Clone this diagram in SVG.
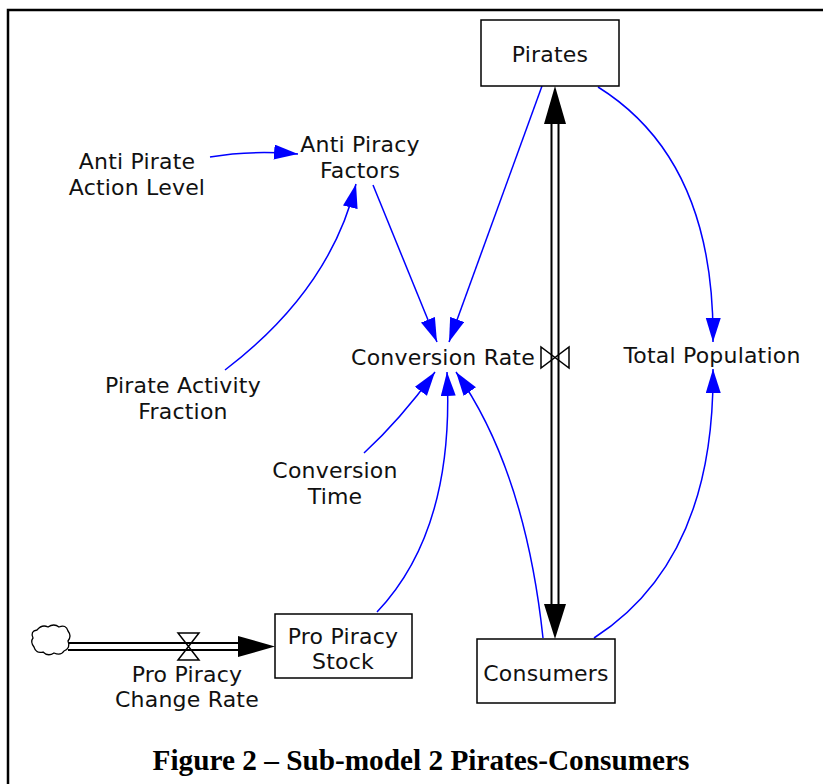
<svg xmlns="http://www.w3.org/2000/svg" width="823" height="784" viewBox="0 0 823 784">
  <style>
    .lbl { font-family: "DejaVu Sans", Verdana, sans-serif; font-size: 22px; letter-spacing: 0.2px; fill: #111; text-anchor: middle; }
    .box { fill: #fff; stroke: #000; stroke-width: 1.5; }
    .link { fill: none; stroke: #0000ff; stroke-width: 1.5; marker-end: url(#blueHead); }
    .pipeOuter { fill: none; stroke: #000; stroke-width: 9; }
    .pipeInner { fill: none; stroke: #fff; stroke-width: 5; }
    .valve { fill: none; stroke: #000; stroke-width: 1.5; stroke-linejoin: miter; }
    .caption { font-family: "Liberation Serif", "Times New Roman", serif; font-size: 29px; font-weight: bold; fill: #000; text-anchor: middle; }
  </style>
  <defs>
    <marker id="blueHead" markerUnits="userSpaceOnUse" markerWidth="26" markerHeight="16" refX="24" refY="7.5" orient="auto">
      <path d="M0,0 L24,7.5 L0,15 Z" fill="#0000ff"/>
    </marker>
  </defs>

  <rect width="823" height="784" fill="#fff"/>
  <!-- page frame -->
  <rect x="8" y="10" width="830" height="800" fill="none" stroke="#000" stroke-width="2.5"/>

  <!-- material flows -->
  <g id="flows">
    <g id="flow-pirates-consumers">
      <line class="pipeOuter" x1="555" y1="118" x2="555" y2="610"/>
      <line class="pipeInner" x1="555" y1="118" x2="555" y2="610"/>
      <path d="M555,86 L566,124 L544,124 Z" fill="#000"/>
      <path d="M555,639 L566,604 L544,604 Z" fill="#000"/>
      <path class="valve" d="M541,347 L541,368 L569,347 L569,368 Z"/>
    </g>
    <g id="flow-pro-piracy">
      <line class="pipeOuter" x1="68" y1="646.5" x2="245" y2="646.5"/>
      <line class="pipeInner" x1="68" y1="646.5" x2="245" y2="646.5"/>
      <path d="M275,646.5 L238,636 L238,657 Z" fill="#000"/>
      <path class="valve" d="M178,633 L199,633 L178,660 L199,660 Z"/>
      <!-- source cloud -->
      <path d="M37,630 q5,-6 11,-3 q6,-4 11,0 q7,-3 9,4 q4,5 0,10 q3,7 -4,10 q-3,5 -10,2 q-6,4 -11,-1 q-7,2 -9,-5 q-4,-5 -1,-9 q-3,-7 4,-8 Z" fill="#fff" stroke="#000" stroke-width="1.3"/>
    </g>
  </g>

  <!-- information links -->
  <g id="links">
    <path class="link" d="M210,157 Q250,150 298,154"/>
    <path class="link" d="M225,370 Q330,290 356,184"/>
    <path class="link" d="M373,185 L437,342"/>
    <path class="link" d="M542,86 L449,342"/>
    <path class="link" d="M598,87 Q715,160 713,342"/>
    <path class="link" d="M594,638 Q715,560 713,369"/>
    <path class="link" d="M364,453 Q400,420 435,372"/>
    <path class="link" d="M377,612 Q455,530 447,372"/>
    <path class="link" d="M543,638 Q525,470 456,372"/>
  </g>

  <!-- nodes -->
  <g id="pirates">
    <rect class="box" x="481" y="20" width="138" height="66"/>
    <text class="lbl" x="550" y="62">Pirates</text>
  </g>
  <g id="consumers">
    <rect class="box" x="477" y="639" width="138" height="64"/>
    <text class="lbl" x="546" y="681">Consumers</text>
  </g>
  <g id="pro-piracy-stock">
    <rect class="box" x="275" y="614" width="137" height="64"/>
    <text class="lbl" x="343" y="644">Pro Piracy</text>
    <text class="lbl" x="343" y="669">Stock</text>
  </g>
  <g id="anti-piracy-factors">
    <text class="lbl" x="360" y="152">Anti Piracy</text>
    <text class="lbl" x="360" y="178">Factors</text>
  </g>
  <g id="anti-pirate-action-level">
    <text class="lbl" x="137" y="169">Anti Pirate</text>
    <text class="lbl" x="137" y="195">Action Level</text>
  </g>
  <g id="conversion-rate">
    <text class="lbl" x="443" y="365">Conversion Rate</text>
  </g>
  <g id="total-population">
    <text class="lbl" x="712" y="363">Total Population</text>
  </g>
  <g id="pirate-activity-fraction">
    <text class="lbl" x="183" y="393">Pirate Activity</text>
    <text class="lbl" x="183" y="419">Fraction</text>
  </g>
  <g id="conversion-time">
    <text class="lbl" x="335" y="478">Conversion</text>
    <text class="lbl" x="335" y="504">Time</text>
  </g>
  <g id="pro-piracy-change-rate">
    <text class="lbl" x="187" y="682">Pro Piracy</text>
    <text class="lbl" x="187" y="707">Change Rate</text>
  </g>

  <text class="caption" x="421" y="770" textLength="537" lengthAdjust="spacingAndGlyphs">Figure 2 – Sub-model 2 Pirates-Consumers</text>
</svg>
